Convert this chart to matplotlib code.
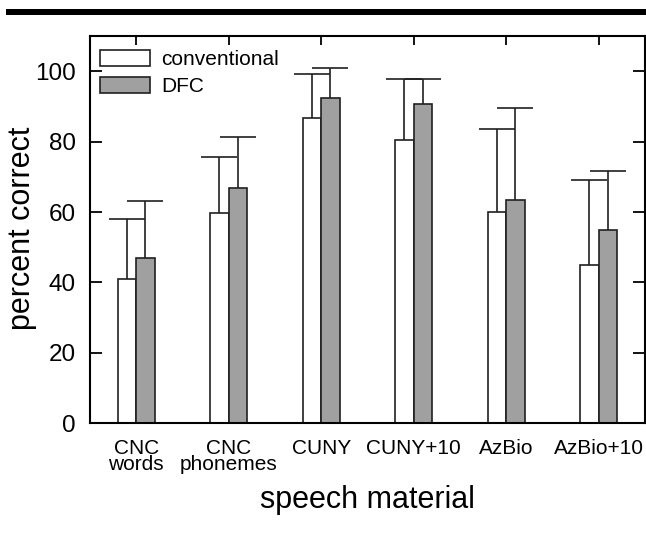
import numpy as np
import matplotlib
matplotlib.use("Agg")
import matplotlib.pyplot as plt
from matplotlib.patches import Rectangle

plt.rcParams['font.family'] = ['Liberation Sans', 'DejaVu Sans']

materials = ['CNC\nwords', 'CNC\nphonemes', 'CUNY', 'CUNY+10', 'AzBio', 'AzBio+10']
conventional = [41.0, 59.7, 86.8, 80.4, 59.9, 45.0]
conventional_top = [58.0, 75.6, 99.3, 97.9, 83.6, 69.2]
dfc = [46.9, 66.9, 92.5, 90.8, 63.3, 55.0]
dfc_top = [63.0, 81.4, 101.0, 97.7, 89.6, 71.6]

conv_sd = np.array(conventional_top) - np.array(conventional)
dfc_sd = np.array(dfc_top) - np.array(dfc)

fig = plt.figure(figsize=(6.46, 5.42), dpi=100)
ax = fig.add_axes([0.1393, 0.219, 0.859, 0.7146])

# heavy rule at the top of the page
fig.patches.append(Rectangle((0.009, 0.972), 0.991, 0.012, transform=fig.transFigure,
                             facecolor='black', edgecolor='none'))

x = np.arange(len(materials))
w = 0.2
ax.bar(x - w / 2, conventional, w, color='white', edgecolor='#202020', linewidth=1.2,
       label='conventional', zorder=2)
ax.bar(x + w / 2, dfc, w, color='#a0a0a0', edgecolor='#202020', linewidth=1.2,
       label='DFC', zorder=2)

# upper error bars only, no cap at the bar top
for xs, ys, sd in [(x - w / 2, conventional, conv_sd), (x + w / 2, dfc, dfc_sd)]:
    eb = ax.errorbar(xs, ys, yerr=[np.zeros(len(x)), sd], fmt='none', ecolor='#202020',
                     elinewidth=1.2, capsize=13, capthick=1.2, zorder=1)
    eb[1][0].set_visible(False)

ax.set_xlim(-0.5, 5.5)
ax.set_ylim(0, 110)
ax.set_yticks([0, 20, 40, 60, 80, 100])
ax.set_xticks(x)
ax.set_xticklabels(materials, fontsize=15, linespacing=0.85)
ax.tick_params(axis='y', labelsize=17.5, direction='in', length=8.5, width=1.3,
               right=True, pad=10)
ax.tick_params(axis='x', direction='in', length=6.5, width=1.3, top=True, pad=11)
for s in ax.spines.values():
    s.set_linewidth(1.5)

ax.set_ylabel('percent correct', fontsize=22)
ax.yaxis.set_label_coords(-0.0955, 0.503)
ax.set_xlabel('speech material', fontsize=22, labelpad=8)

ax.legend(loc='upper left', bbox_to_anchor=(0.018, 0.965), frameon=False, fontsize=15,
          handlelength=2.4, handleheight=0.85, borderpad=0, borderaxespad=0,
          handletextpad=0.55, labelspacing=0.36)

fig.savefig('out.png', dpi=100)
